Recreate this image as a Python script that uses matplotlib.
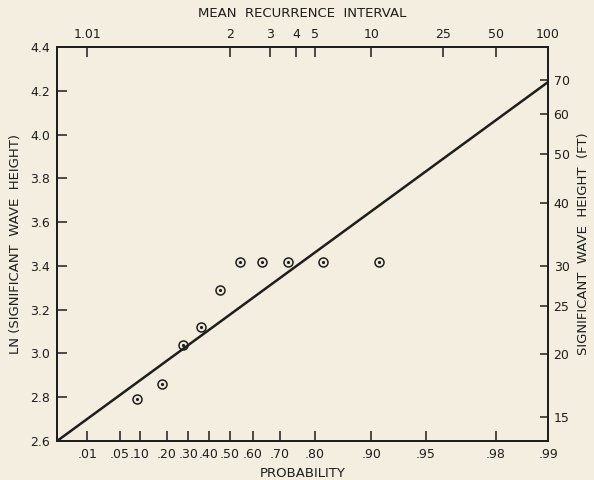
import numpy as np
import matplotlib
matplotlib.use('Agg')
import matplotlib.pyplot as plt

BG = '#f4eee1'
INK = '#1e1e1e'

# observed points (plotting position, ln of significant wave height)
prob = [0.091, 0.182, 0.273, 0.364, 0.455, 0.545, 0.636, 0.727, 0.818, 0.909]
ln_h = [2.79, 2.86, 3.04, 3.12, 3.29, 3.42, 3.42, 3.42, 3.42, 3.42]

# fitted line end points
line_p = [0.001, 0.99]
line_ln = [2.60, 4.24]

prob_ticks = [.01, .05, .10, .20, .30, .40, .50, .60, .70, .80, .90, .95, .98, .99]
prob_labels = ['.01', '.05', '.10', '.20', '.30', '.40', '.50', '.60', '.70',
               '.80', '.90', '.95', '.98', '.99']
ri_ticks = [1.01, 2, 3, 4, 5, 10, 25, 50, 100]
ri_labels = ['1.01', '2', '3', '4', '5', '10', '25', '50', '100']
ft_ticks = [15, 20, 25, 30, 40, 50, 60, 70]
ln_ticks = [2.6, 2.8, 3.0, 3.2, 3.4, 3.6, 3.8, 4.0, 4.2, 4.4]


def gumbel_fwd(p):
    p = np.clip(p, 1e-12, 1 - 1e-12)
    return -np.log(-np.log(p))


def gumbel_inv(y):
    return np.exp(-np.exp(-y))


plt.rcParams['font.family'] = ['DejaVu Sans']
plt.rcParams['text.color'] = INK

fig = plt.figure(figsize=(5.94, 4.80), dpi=100, facecolor=BG)
ax = fig.add_axes([0.0960, 0.0812, 0.8266, 0.8208], facecolor=BG)

ax.set_xscale('function', functions=(gumbel_fwd, gumbel_inv))
ax.set_xlim(0.001, 0.99)
ax.set_ylim(2.6, 4.4)

ax.plot(line_p, line_ln, color=INK, lw=1.8, solid_capstyle='butt', zorder=3)
ax.plot(prob, ln_h, ls='none', marker='o', ms=6.5, mfc='none', mec=INK,
        mew=1.1, zorder=4)
ax.plot(prob, ln_h, ls='none', marker='o', ms=1.3, mfc=INK, mec=INK, zorder=4)

ax.set_xticks(prob_ticks)
ax.set_xticklabels(prob_labels)
ax.xaxis.set_minor_locator(matplotlib.ticker.NullLocator())
ax.set_yticks(ln_ticks)
ax.set_yticklabels([f'{v:.1f}' for v in ln_ticks])
ax.tick_params(axis='both', direction='in', length=7, width=1.1, colors=INK,
               labelsize=9, pad=5)
ax.set_xlabel('PROBABILITY', fontsize=9.5, labelpad=4, color=INK)
ax.set_ylabel('LN (SIGNIFICANT  WAVE  HEIGHT)', fontsize=9.5, labelpad=6,
              color=INK)

# top axis: mean recurrence interval
top = ax.twiny()
top.set_xscale('function', functions=(gumbel_fwd, gumbel_inv))
top.set_xlim(ax.get_xlim())
top.set_xticks([1 - 1 / t for t in ri_ticks])
top.set_xticklabels(ri_labels)
top.xaxis.set_minor_locator(matplotlib.ticker.NullLocator())
top.tick_params(axis='x', direction='in', length=7, width=1.1, colors=INK,
                labelsize=9, pad=4)
top.set_xlabel('MEAN  RECURRENCE  INTERVAL', fontsize=9.5, labelpad=8,
               color=INK)

# right axis: wave height in feet
right = ax.twinx()
right.set_ylim(ax.get_ylim())
right.set_yticks(np.log(ft_ticks))
right.set_yticklabels([str(v) for v in ft_ticks])
right.yaxis.set_minor_locator(matplotlib.ticker.NullLocator())
right.tick_params(axis='y', direction='in', length=6, width=1.1, colors=INK,
                  labelsize=9, pad=4)
right.set_ylabel('SIGNIFICANT  WAVE  HEIGHT  (FT)', fontsize=9.5, labelpad=5,
                 color=INK)

for a in (ax, top, right):
    for s in a.spines.values():
        s.set_linewidth(1.2)
        s.set_color(INK)

fig.savefig('out.png', dpi=100, facecolor=BG)
